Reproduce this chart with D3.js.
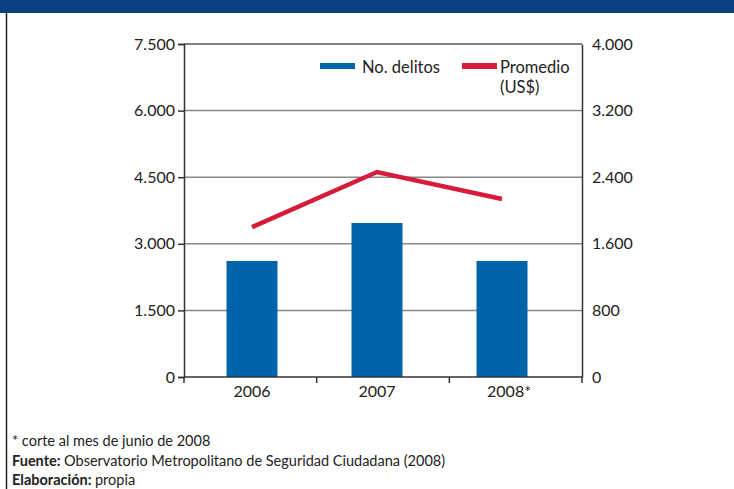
<!DOCTYPE html>
<html><head><meta charset="utf-8">
<script src="https://cdn.jsdelivr.net/npm/d3@7"></script>
<style>body{margin:0;background:#fff}svg{display:block}</style>
</head><body>
<script>
const years = ["2006", "2007", "2008*"];
const delitos = [2613, 3468, 2613];
const promedio = [1800, 2462, 2138];
const leftTicks = [0, 1500, 3000, 4500, 6000, 7500];
const rightTicks = [0, 800, 1600, 2400, 3200, 4000];
const legendLabels = ["No. delitos", "Promedio", "(US$)"];
const footnotes = [["", "* corte al mes de junio de 2008"], ["Fuente: ", "Observatorio Metropolitano de Seguridad Ciudadana (2008)"], ["Elaboración: ", "propia"]];

const W = 734, H = 489;
const font = "Lato, 'Open Sans', sans-serif";
const svg = d3.select("body").append("svg").attr("width", W).attr("height", H);

svg.append("rect").attr("x", 0).attr("y", 0).attr("width", W).attr("height", 13).attr("fill", "#0a3f80");
svg.append("line").attr("x1", 6.5).attr("x2", 6.5).attr("y1", 13).attr("y2", H).attr("stroke", "#222").attr("stroke-width", 1.5);

const x0 = 184, x1 = 582, yTop = 44, yBot = 377;
const xb = d3.scaleBand().domain(years).range([x0, x1]);
const xp = d3.scalePoint().domain(years).range([252, 502]);
const yL = d3.scaleLinear().domain([0, 7500]).range([yBot, yTop]);
const yR = d3.scaleLinear().domain([0, 4000]).range([yBot, yTop]);
const fmt = d3.formatLocale({decimal: ",", thousands: ".", grouping: [3], currency: ["", ""]}).format(",");

// gridlines
svg.append("g").selectAll("line").data(leftTicks.filter(d => d > 0)).join("line")
  .attr("x1", x0).attr("x2", x1).attr("y1", d => yL(d)).attr("y2", d => yL(d))
  .attr("stroke", d => d === 7500 ? "#555" : "#888").attr("stroke-width", 1.5);

// bars
const bw = 51;
svg.append("g").selectAll("rect").data(years).join("rect")
  .attr("x", d => xp(d) - bw / 2).attr("width", bw)
  .attr("y", (d, i) => yL(delitos[i])).attr("height", (d, i) => yBot - yL(delitos[i]))
  .attr("fill", "#0064a8");

// line
svg.append("path").datum(years)
  .attr("d", d3.line().x(d => xp(d)).y((d, i) => yR(promedio[i])))
  .attr("fill", "none").attr("stroke", "#d71b3b").attr("stroke-width", 4.5);

// axes
const gl = svg.append("g").attr("transform", `translate(${x0},0)`)
  .call(d3.axisLeft(yL).tickValues(leftTicks).tickFormat(fmt).tickSize(6).tickPadding(3));
const gr = svg.append("g").attr("transform", `translate(${x1},0)`)
  .call(d3.axisRight(yR).tickValues(rightTicks).tickFormat(fmt).tickSize(0).tickPadding(10));
const gx = svg.append("g").attr("transform", `translate(0,${yBot})`)
  .call(d3.axisBottom(xb).tickSize(0).tickPadding(9));
[gl, gr, gx].forEach(g => {
  g.select(".domain").attr("stroke", "#333").attr("stroke-width", 1.5);
  g.selectAll(".tick line").attr("stroke", "#333").attr("stroke-width", 1.5);
  g.selectAll("text").attr("font-family", font).attr("font-size", 16).attr("fill", "#222");
});
gx.select(".domain").remove();
gx.append("line").attr("x1", x0).attr("x2", x1).attr("y1", 0).attr("y2", 0).attr("stroke", "#333").attr("stroke-width", 1.5);
gx.selectAll(".tick text").attr("x", (d, i) => xp(d) - xb(d) - xb.bandwidth() / 2 + (d === "2008*" ? 7 : 0));
// band boundary ticks
gx.append("g").selectAll("line").data([x0, ...years.map(d => xb(d) + xb.bandwidth())]).join("line")
  .attr("x1", d => d).attr("x2", d => d).attr("y1", 0).attr("y2", 6)
  .attr("stroke", "#333").attr("stroke-width", 1.5);

// legend
const lg = svg.append("g").attr("font-family", font).attr("font-size", 16.5).attr("fill", "#222");
lg.append("rect").attr("x", 320).attr("y", 63).attr("width", 35).attr("height", 6).attr("fill", "#0064a8");
lg.append("text").attr("x", 362).attr("y", 73).text(legendLabels[0]);
lg.append("rect").attr("x", 462).attr("y", 63).attr("width", 35).attr("height", 6).attr("fill", "#d71b3b");
lg.append("text").attr("x", 500).attr("y", 73).text(legendLabels[1]);
lg.append("text").attr("x", 500).attr("y", 93).text(legendLabels[2]);

// footnotes
const ft = svg.append("g").attr("font-family", font).attr("font-size", 14.5).attr("fill", "#222");
footnotes.forEach((f, i) => {
  const t = ft.append("text").attr("x", 12).attr("y", 446 + i * 19.5);
  if (f[0]) t.append("tspan").attr("font-weight", "bold").text(f[0]);
  t.append("tspan").text(f[1]);
});
</script>
</body></html>
